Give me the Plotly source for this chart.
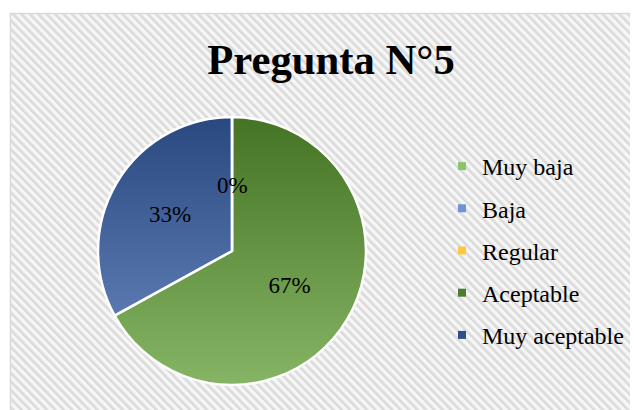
import base64
import plotly.graph_objects as go

# ---- data ----
categories = ["Muy baja", "Baja", "Regular", "Aceptable", "Muy aceptable"]
values = [0, 0, 0, 67, 33]
title_text = "Pregunta N°5"

# ---- styles ----
legend_colors = ["#8cc46a", "#6f93d6", "#ffc83a", "#4f7a32", "#2e4f8c"]
# slice base colours (semi-transparent over a vertical shading disc)
slice_colors = ["rgba(140,196,106,0.75)", "rgba(111,147,214,0.75)",
                "rgba(255,200,58,0.75)", "rgba(94,155,50,0.75)",
                "rgba(58,98,172,0.75)"]
FONT = "Times New Roman, Liberation Serif, serif"
OFF = 8                      # page body margin
W, H = 638 - OFF, 410 - OFF  # figure size


def px(x):
    return (x - OFF) / W


def py(y):
    return 1 - (y - OFF) / H


# pie placement (page pixels)
cx, cy, r = 232, 251, 134
dom_x = [px(cx - r), px(cx + r)]
dom_y = [py(cy + r), py(cy - r)]


def svg_uri(svg):
    return "data:image/svg+xml;base64," + base64.b64encode(svg.encode()).decode()


# hatched chart background
bw, bh = 640, 400
hatch_svg = f'''<svg xmlns="http://www.w3.org/2000/svg" width="{bw}" height="{bh}">
<defs><pattern id="p" width="5.5" height="5.5" patternUnits="userSpaceOnUse" patternTransform="rotate(-45)">
<rect width="5.5" height="5.5" fill="#f7f7f7"/><rect width="2.6" height="5.5" fill="#dcdcdc"/></pattern></defs>
<rect width="{bw}" height="{bh}" fill="url(#p)"/></svg>'''

# vertical shading disc under the pie
d = 2 * r
shade_svg = f'''<svg xmlns="http://www.w3.org/2000/svg" width="{d}" height="{d}">
<defs><linearGradient id="g" x1="0" y1="0" x2="0" y2="1">
<stop offset="0" stop-color="#000000"/><stop offset="1" stop-color="#ffffff"/></linearGradient></defs>
<circle cx="{r}" cy="{r}" r="{r - 1}" fill="url(#g)"/></svg>'''

fig = go.Figure()

fig.add_trace(go.Pie(
    labels=categories,
    values=values,
    sort=False,
    direction="clockwise",
    rotation=0,
    domain=dict(x=dom_x, y=dom_y),
    marker=dict(colors=slice_colors, line=dict(color="white", width=2.5)),
    texttemplate="%{percent:.0%}",
    textposition="inside",
    insidetextorientation="horizontal",
    textfont=dict(family=FONT, size=23, color="black"),
    showlegend=False,
    hoverinfo="label+percent",
))

# legend entries (one group each, for Excel-like spacing)
for name, col in zip(categories, legend_colors):
    fig.add_trace(go.Scatter(
        x=[None], y=[None], mode="markers", name=name, legendgroup=name,
        marker=dict(symbol="square", size=8, color=col),
        hoverinfo="skip",
    ))

# 0% labels of the empty slices (at the start angle of the pie)
zero_total = sum(1 for v in values if v == 0)
if zero_total:
    fig.add_annotation(
        x=px(cx), y=py(cy - r * 0.49), xref="paper", yref="paper",
        text="0%", showarrow=False,
        font=dict(family=FONT, size=23, color="black"),
    )

fig.update_layout(
    width=W, height=H, autosize=False,
    margin=dict(l=0, r=0, t=0, b=0),
    paper_bgcolor="white", plot_bgcolor="rgba(0,0,0,0)",
    xaxis=dict(visible=False), yaxis=dict(visible=False),
    title=dict(text=f"<b>{title_text}</b>", x=px(331), xanchor="center",
               y=py(59), yanchor="middle",
               font=dict(family=FONT, size=42.7, color="black")),
    legend=dict(x=px(442), xanchor="left", y=py(144), yanchor="top",
                bgcolor="rgba(0,0,0,0)", tracegroupgap=8,
                font=dict(family=FONT, size=24, color="black"),
                itemclick=False, itemdoubleclick=False),
    images=[
        dict(source=svg_uri(hatch_svg), xref="paper", yref="paper",
             x=px(11), y=py(14), sizex=1.1, sizey=1.1,
             xanchor="left", yanchor="top", sizing="stretch", layer="below"),
        dict(source=svg_uri(shade_svg), xref="paper", yref="paper",
             x=dom_x[0], y=dom_y[1], sizex=dom_x[1] - dom_x[0], sizey=dom_y[1] - dom_y[0],
             xanchor="left", yanchor="top", sizing="stretch", layer="below"),
    ],
    shapes=[dict(type="rect", xref="paper", yref="paper",
                 x0=px(10.5), x1=1.05, y0=-0.05, y1=py(13.5),
                 line=dict(color="#d9d9d9", width=1.5), fillcolor="rgba(0,0,0,0)",
                 layer="above")],
)

fig.write_html("out.html")
